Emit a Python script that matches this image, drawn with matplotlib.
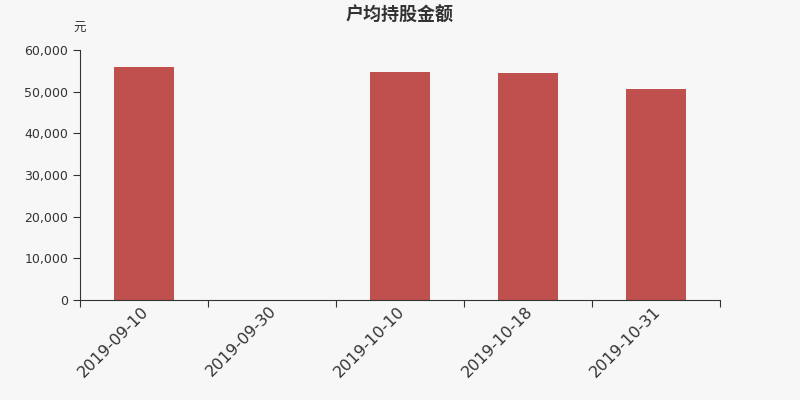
import matplotlib
matplotlib.use("Agg")
import matplotlib.pyplot as plt
from matplotlib.ticker import FuncFormatter, FixedLocator
import matplotlib.transforms as mtransforms
import numpy as np

plt.rcParams['font.family'] = ['Noto Sans CJK SC', 'DejaVu Sans']

categories = ["2019-09-10", "2019-09-30", "2019-10-10", "2019-10-18", "2019-10-31"]
values = [56000, 0, 54700, 54400, 50700]
yticks = [0, 10000, 20000, 30000, 40000, 50000, 60000]

bg = "#f7f7f7"
bar_color = "#c0504d"
txt = "#333333"

fig = plt.figure(figsize=(8, 4), dpi=100, facecolor=bg)
ax = fig.add_axes([0.1, 0.25, 0.8, 0.625], facecolor=bg)

x = np.arange(len(categories))
ax.bar(x, values, width=0.47, color=bar_color)

ax.set_xlim(-0.5, len(categories) - 0.5)
ax.set_ylim(0, 60000)
ax.set_yticks(yticks)
ax.yaxis.set_major_formatter(FuncFormatter(lambda v, p: f"{int(v):,}"))

ax.xaxis.set_major_locator(FixedLocator(np.arange(len(categories) + 1) - 0.5))
ax.set_xticklabels([])
ax.xaxis.set_minor_locator(FixedLocator(x))
ax.set_xticklabels(categories, minor=True, rotation=45, ha='right',
                   rotation_mode='anchor', fontsize=11.5, color=txt,
                   family='DejaVu Sans')
ax.tick_params(axis='x', which='minor', length=0, pad=4)
ax.tick_params(axis='x', which='major', length=5, color=txt)
ax.tick_params(axis='y', length=5, color=txt, labelsize=9, labelcolor=txt)
for lab in ax.get_yticklabels():
    lab.set_family('DejaVu Sans')
offset = mtransforms.ScaledTranslation(-3 / 100, 2 / 100, fig.dpi_scale_trans)
for lab in ax.get_xticklabels(minor=True):
    lab.set_transform(lab.get_transform() + offset)

for s in ['top', 'right']:
    ax.spines[s].set_visible(False)
for s in ['left', 'bottom']:
    ax.spines[s].set_color(txt)

fig.text(0.5, 0.962, "户均持股金额", ha='center', va='center', fontsize=13,
         fontweight='bold', color=txt)
fig.text(0.1, 0.93, "元", ha='center', va='center', fontsize=9, color=txt)

fig.savefig("out.png", dpi=100, facecolor=bg)
